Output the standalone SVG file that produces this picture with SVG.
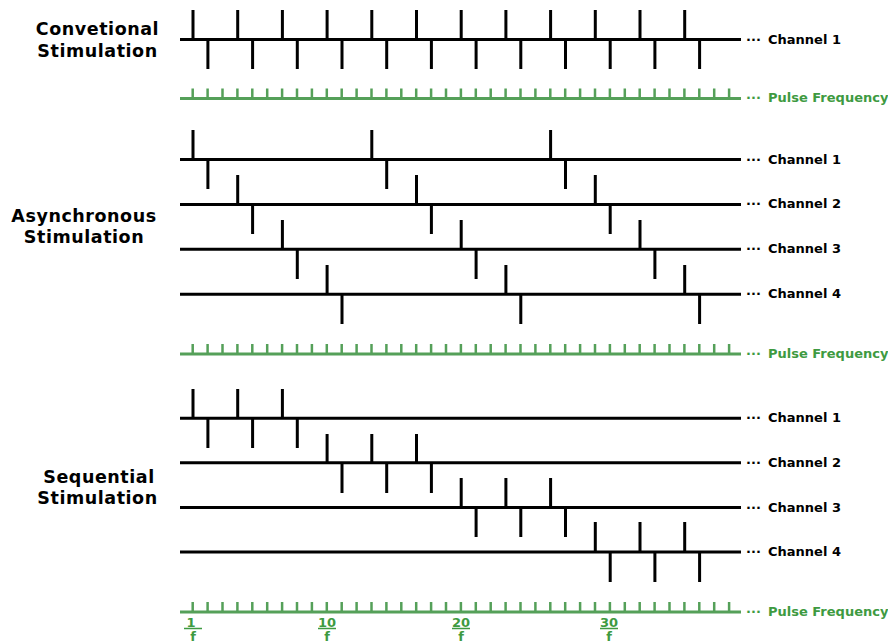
<svg xmlns="http://www.w3.org/2000/svg" width="888" height="643" viewBox="0 0 888 643">
<style>
.bg{fill:#ffffff}
.ln{stroke:#000;stroke-width:3;fill:none}
.tk{stroke:#000;stroke-width:3;fill:none}
.pl{stroke:#55a059;stroke-width:3;fill:none}
.pt{stroke:#55a059;stroke-width:2.5;fill:none}
.title{font-family:"DejaVu Sans",Verdana,sans-serif;font-weight:bold;font-size:17.5px;letter-spacing:0.55px;fill:#000;text-anchor:middle}
.ch{font-family:"DejaVu Sans",Verdana,sans-serif;font-weight:bold;font-size:13px;fill:#000}
.pf{font-family:"DejaVu Sans",Verdana,sans-serif;font-weight:bold;font-size:13px;fill:#3e9a41}
.fr{font-family:"DejaVu Sans",Verdana,sans-serif;font-weight:bold;font-size:13px;fill:#3e9a41;text-anchor:middle}
.bar{stroke:#3e9a41;stroke-width:1.5}
</style>
<defs>
<path id="pticks" d="M192.7,0v-10M207.6,0v-10M222.5,0v-10M237.4,0v-10M252.3,0v-10M267.2,0v-10M282.1,0v-10M297,0v-10M311.9,0v-10M326.8,0v-10M341.7,0v-10M356.6,0v-10M371.5,0v-10M386.4,0v-10M401.3,0v-10M416.2,0v-10M431.1,0v-10M446,0v-10M460.9,0v-10M475.8,0v-10M490.7,0v-10M505.6,0v-10M520.5,0v-10M535.4,0v-10M550.3,0v-10M565.2,0v-10M580.1,0v-10M595,0v-10M609.9,0v-10M624.8,0v-10M639.7,0v-10M654.6,0v-10M669.5,0v-10M684.4,0v-10M699.3,0v-10M714.2,0v-10M729.1,0v-10"/>
</defs>
<rect class="bg" x="0" y="0" width="888" height="643"/>

<g id="conventional">
<text class="title" x="97.5" y="35">Convetional</text>
<text class="title" x="97.5" y="56.5">Stimulation</text>
<g id="conv-ch1">
<line class="ln" x1="180" y1="39.5" x2="741" y2="39.5"/>
<path class="tk" d="M193,10V39.5M237.7,10V39.5M282.4,10V39.5M327.1,10V39.5M371.8,10V39.5M416.5,10V39.5M461.2,10V39.5M505.9,10V39.5M550.6,10V39.5M595.3,10V39.5M640,10V39.5M684.7,10V39.5M207.9,39.5V69M252.6,39.5V69M297.3,39.5V69M342,39.5V69M386.7,39.5V69M431.4,39.5V69M476.1,39.5V69M520.8,39.5V69M565.5,39.5V69M610.2,39.5V69M654.9,39.5V69M699.6,39.5V69"/>
<text class="ch" x="746" y="43.5">···</text>
<text class="ch" x="768" y="43.5">Channel 1</text>
</g>
<g id="conv-pulse">
<line class="pl" x1="180" y1="98.5" x2="741" y2="98.5"/>
<use href="#pticks" class="pt" transform="translate(0,98.5)"/>
<text class="pf" x="746" y="102">···</text>
<text class="pf" x="768" y="102">Pulse Frequency</text>
</g>
</g>

<g id="asynchronous">
<text class="title" x="84" y="221.5">Asynchronous</text>
<text class="title" x="84" y="242.5">Stimulation</text>
<g id="async-ch1">
<line class="ln" x1="180" y1="159.5" x2="741" y2="159.5"/>
<path class="tk" d="M193,130V159.5M371.8,130V159.5M550.6,130V159.5M207.9,159.5V189M386.7,159.5V189M565.5,159.5V189"/>
<text class="ch" x="746" y="163.5">···</text>
<text class="ch" x="768" y="163.5">Channel 1</text>
</g>
<g id="async-ch2">
<line class="ln" x1="180" y1="204.4" x2="741" y2="204.4"/>
<path class="tk" d="M237.7,175V204.4M416.5,175V204.4M595.3,175V204.4M252.6,204.4V234M431.4,204.4V234M610.2,204.4V234"/>
<text class="ch" x="746" y="208.4">···</text>
<text class="ch" x="768" y="208.4">Channel 2</text>
</g>
<g id="async-ch3">
<line class="ln" x1="180" y1="249.3" x2="741" y2="249.3"/>
<path class="tk" d="M282.4,220V249.3M461.2,220V249.3M640,220V249.3M297.3,249.3V279M476.1,249.3V279M654.9,249.3V279"/>
<text class="ch" x="746" y="253.3">···</text>
<text class="ch" x="768" y="253.3">Channel 3</text>
</g>
<g id="async-ch4">
<line class="ln" x1="180" y1="294.2" x2="741" y2="294.2"/>
<path class="tk" d="M327.1,265V294.2M505.9,265V294.2M684.7,265V294.2M342,294.2V324M520.8,294.2V324M699.6,294.2V324"/>
<text class="ch" x="746" y="298.2">···</text>
<text class="ch" x="768" y="298.2">Channel 4</text>
</g>
<g id="async-pulse">
<line class="pl" x1="180" y1="354" x2="741" y2="354"/>
<use href="#pticks" class="pt" transform="translate(0,354)"/>
<text class="pf" x="746" y="357.5">···</text>
<text class="pf" x="768" y="357.5">Pulse Frequency</text>
</g>
</g>

<g id="sequential">
<text class="title" x="99" y="482.5">Sequential</text>
<text class="title" x="97.5" y="503.5">Stimulation</text>
<g id="seq-ch1">
<line class="ln" x1="180" y1="418.3" x2="741" y2="418.3"/>
<path class="tk" d="M193,389V418.3M237.7,389V418.3M282.4,389V418.3M207.9,418.3V448M252.6,418.3V448M297.3,418.3V448"/>
<text class="ch" x="746" y="422.3">···</text>
<text class="ch" x="768" y="422.3">Channel 1</text>
</g>
<g id="seq-ch2">
<line class="ln" x1="180" y1="462.8" x2="741" y2="462.8"/>
<path class="tk" d="M327.1,434V462.8M371.8,434V462.8M416.5,434V462.8M342,462.8V493M386.7,462.8V493M431.4,462.8V493"/>
<text class="ch" x="746" y="466.8">···</text>
<text class="ch" x="768" y="466.8">Channel 2</text>
</g>
<g id="seq-ch3">
<line class="ln" x1="180" y1="507.5" x2="741" y2="507.5"/>
<path class="tk" d="M461.2,478V507.5M505.9,478V507.5M550.6,478V507.5M476.1,507.5V537M520.8,507.5V537M565.5,507.5V537"/>
<text class="ch" x="746" y="511.5">···</text>
<text class="ch" x="768" y="511.5">Channel 3</text>
</g>
<g id="seq-ch4">
<line class="ln" x1="180" y1="552" x2="741" y2="552"/>
<path class="tk" d="M595.3,522V552M640,522V552M684.7,522V552M610.2,552V582M654.9,552V582M699.6,552V582"/>
<text class="ch" x="746" y="556">···</text>
<text class="ch" x="768" y="556">Channel 4</text>
</g>
<g id="seq-pulse">
<line class="pl" x1="180" y1="612" x2="741" y2="612"/>
<use href="#pticks" class="pt" transform="translate(0,612)"/>
<text class="pf" x="746" y="615.5">···</text>
<text class="pf" x="768" y="615.5">Pulse Frequency</text>
</g>
</g>

<g id="time-labels">
<text class="fr" x="191" y="626.5">1</text>
<line class="bar" x1="184" y1="628.5" x2="202" y2="628.5"/>
<text class="fr" x="193" y="641">f</text>
<text class="fr" x="327" y="626.5">10</text>
<line class="bar" x1="318" y1="628.5" x2="336" y2="628.5"/>
<text class="fr" x="327" y="641">f</text>
<text class="fr" x="461" y="626.5">20</text>
<line class="bar" x1="452" y1="628.5" x2="470" y2="628.5"/>
<text class="fr" x="461" y="641">f</text>
<text class="fr" x="609" y="626.5">30</text>
<line class="bar" x1="600" y1="628.5" x2="618" y2="628.5"/>
<text class="fr" x="609" y="641">f</text>
</g>
</svg>
